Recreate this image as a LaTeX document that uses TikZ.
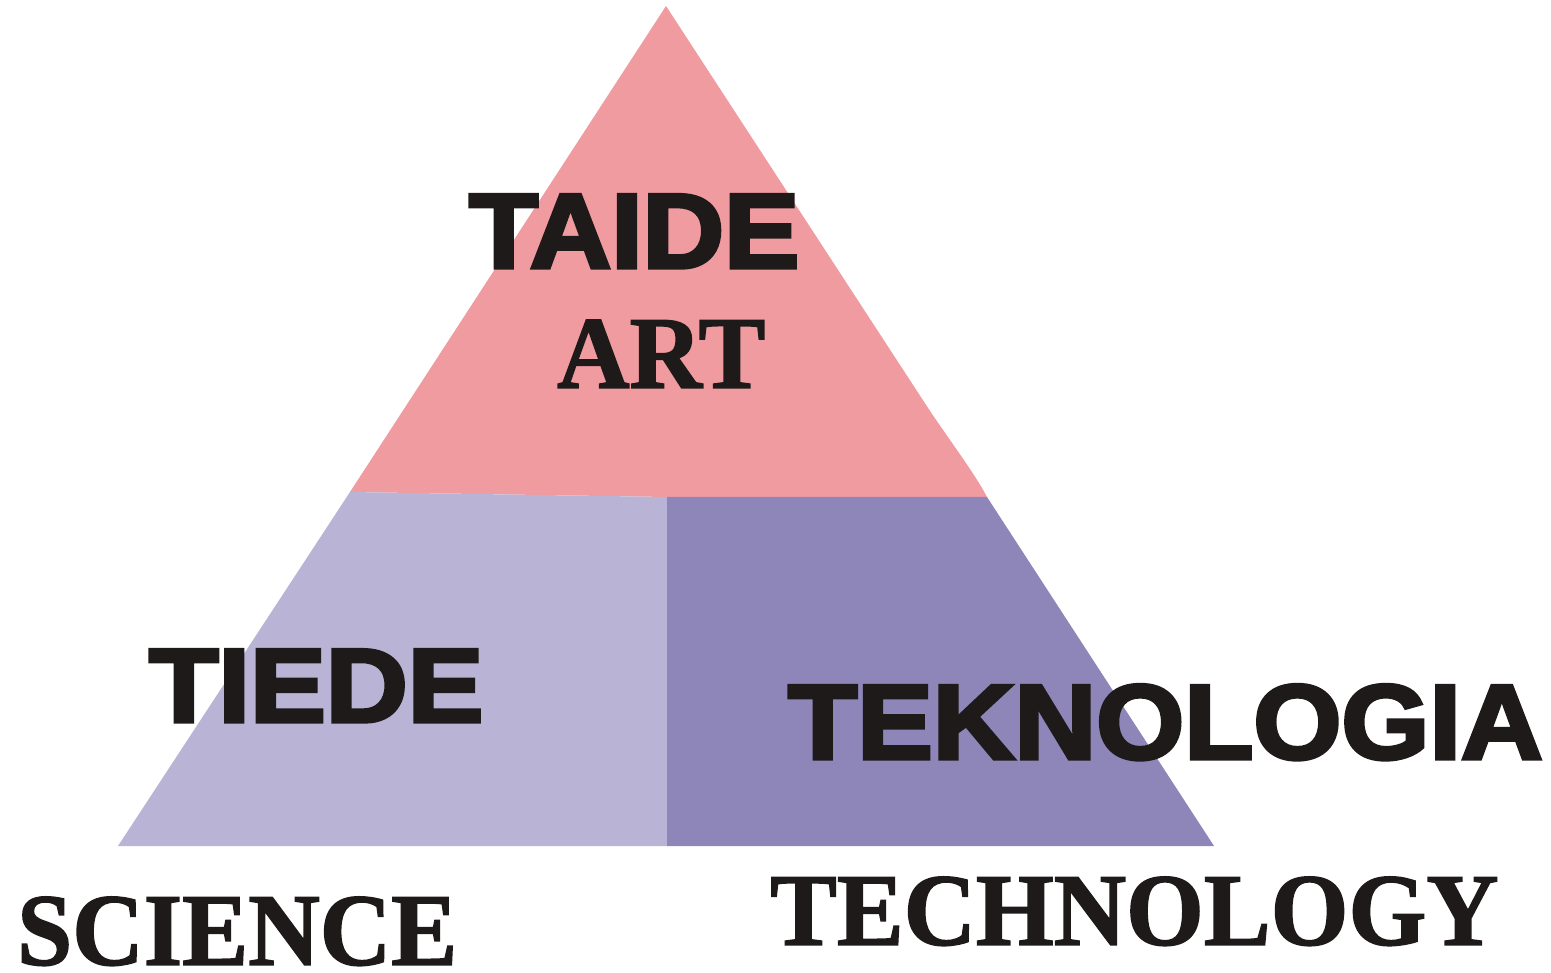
\documentclass[tikz,border=0pt]{standalone}
\usepackage{fontspec}
\usepackage{graphicx}
\setmainfont{Liberation Serif}[BoldFeatures={FakeBold=1.5}]
\newfontfamily\heavysans{Liberation Sans}[BoldFeatures={FakeBold=3.5}]
\definecolor{pinkart}{HTML}{F09BA0}
\definecolor{lavsci}{HTML}{B9B3D6}
\definecolor{purtech}{HTML}{8E86B8}
\definecolor{inkblack}{HTML}{1E1A19}
\tikzset{
  lbl/.style={inner sep=0pt, anchor=south west, text=inkblack},
}
\newcommand{\fitsans}[3]{\resizebox{#1pt}{#2pt}{\heavysans\bfseries #3}}
\newcommand{\fitserif}[3]{\resizebox{#1pt}{#2pt}{\bfseries #3}}
\begin{document}
\begin{tikzpicture}[x=1pt,y=-1pt]
\useasboundingbox (0,0) rectangle (1551,973);
% regions
\fill[pinkart] (666,6) -- (930,411) .. controls (958,452) and (976,476) .. (987,497)
  -- (668,497) -- (350,492) -- cycle;
\fill[lavsci] (350,492) -- (667.5,497) -- (667.5,846) -- (118,846) -- cycle;
\fill[purtech] (667,497) -- (987,497) -- (1214,846) -- (667,846) -- cycle;
% labels
\node[lbl] (taide) at (469,268) {\fitsans{330}{73}{TAIDE}};
\node[lbl] (art) at (557,388) {\fitserif{208}{68}{ART}};
\node[lbl] (tiede) at (149,722) {\fitsans{334}{72}{TIEDE}};
\node[lbl] (tekno) at (788,760) {\fitsans{754}{74}{TEKNOLOGIA}};
\node[lbl] (science) at (17,966) {\fitserif{440}{68}{SCIENCE}};
\node[lbl] (technology) at (770,946) {\fitserif{728}{68}{TECHNOLOGY}};
\end{tikzpicture}
\end{document}
